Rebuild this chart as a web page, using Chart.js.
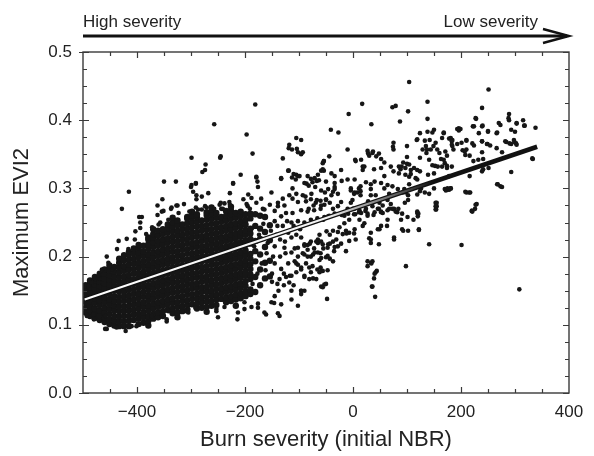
<!DOCTYPE html>
<html>
<head>
<meta charset="utf-8">
<script src="https://cdn.jsdelivr.net/npm/chart.js@4.4.1/dist/chart.umd.min.js"></script>
<style>
  html, body { margin: 0; padding: 0; background: #fff; }
  #wrap { width: 594px; height: 456px; }
</style>
</head>
<body>
<div id="wrap"><canvas id="canvas1"></canvas></div>
<script>
// axes
const xRange = [-500, 400];
const yRange = [0, 0.5];
const xTickLabels = [-400, -200, 0, 200, 400];
const xMinorTicks = [-450, -400, -350, -300, -250, -200, -150, -100, -50, 0, 50, 100, 150, 200, 250, 300, 350];
const yTickLabels = [0, 0.1, 0.2, 0.3, 0.4, 0.5];
const yMinorTicks = [0.025, 0.05, 0.075, 0.1, 0.125, 0.15, 0.175, 0.2, 0.225, 0.25, 0.275, 0.3, 0.325, 0.35, 0.375, 0.4, 0.425, 0.45, 0.475];

const severityLeft = 'High severity';
const severityRight = 'Low severity';

// regression line (end points)
const fitNbr = [-497, 341];
const fitEvi = [0.137, 0.361];

// dense cloud: NBR of each column, EVI2 values down that column
const coreNbr = [-495, -487, -478, -469, -460, -451, -442, -433, -424, -415, -406, -397, -388, -379, -370, -361, -352, -343, -334, -325,
  -316, -307, -298, -289, -280, -271, -262, -253, -244, -235, -226, -217, -208, -199, -190, -181, -172, -163, -154];
const coreEvi = [
  [.118,.125,.133,.140,.147,.153,.158],
  [.113,.120,.127,.134,.141,.148,.155,.161,.165],
  [.110,.117,.124,.132,.139,.146,.153,.159,.165,.170],
  [.107,.114,.121,.129,.136,.143,.150,.157,.163,.169,.175],
  [.104,.111,.118,.125,.133,.140,.147,.154,.161,.168,.175,.181],
  [.101,.108,.116,.123,.130,.137,.145,.152,.159,.166,.173,.180,.187],
  [.099,.106,.113,.121,.128,.135,.142,.150,.157,.164,.171,.178,.185],
  [.098,.105,.112,.120,.127,.134,.141,.149,.156,.163,.170,.177,.184,.191,.197],
  [.098,.105,.113,.120,.127,.135,.142,.149,.157,.164,.171,.179,.186,.194,.202],
  [.098,.106,.113,.121,.128,.136,.143,.151,.158,.166,.173,.181,.188,.196,.203,.207],
  [.107,.115,.122,.130,.137,.145,.152,.160,.167,.175,.182,.190,.197,.205,.212],
  [.101,.109,.116,.124,.131,.139,.146,.154,.161,.169,.176,.184,.191,.199,.206,.213,.217],
  [.103,.111,.118,.126,.133,.141,.148,.156,.163,.171,.178,.186,.193,.201,.208,.216],
  [.099,.106,.113,.121,.128,.136,.143,.151,.158,.166,.173,.181,.188,.196,.203,.211,.218,.225,.228],
  [.109,.116,.124,.131,.139,.146,.154,.161,.169,.176,.184,.191,.199,.206,.214,.221,.228,.233,.240],
  [.111,.118,.126,.133,.141,.148,.156,.163,.171,.178,.186,.193,.201,.208,.216,.223,.231,.238],
  [.113,.120,.128,.135,.143,.150,.158,.165,.173,.180,.188,.195,.203,.210,.218,.225,.233,.240],
  [.122,.130,.137,.145,.152,.160,.167,.175,.182,.190,.197,.205,.212,.220,.227,.235,.242,.247],
  [.117,.124,.132,.139,.147,.154,.162,.169,.177,.184,.192,.199,.207,.214,.222,.229,.237,.244,.250,.257],
  [.111,.118,.126,.133,.141,.148,.156,.163,.171,.178,.186,.193,.201,.208,.216,.223,.231,.238,.246,.253],
  [.120,.127,.135,.142,.150,.157,.165,.172,.180,.187,.195,.202,.210,.217,.225,.232,.240,.247],
  [.121,.129,.136,.144,.151,.159,.166,.174,.181,.189,.196,.204,.211,.219,.226,.234,.241,.249,.256,.258],
  [.130,.138,.145,.153,.160,.168,.175,.183,.190,.198,.205,.213,.220,.228,.235,.243,.250,.257,.260,.266],
  [.124,.131,.139,.146,.154,.161,.169,.176,.184,.191,.199,.206,.214,.221,.229,.236,.244,.251,.258,.262],
  [.125,.133,.140,.148,.155,.163,.170,.178,.185,.193,.200,.208,.215,.223,.230,.238,.245,.253],
  [.119,.126,.134,.141,.149,.156,.164,.171,.179,.186,.194,.201,.209,.216,.224,.231,.239,.246,.254,.261,.265],
  [.128,.135,.143,.150,.158,.165,.173,.180,.188,.195,.203,.210,.218,.225,.233,.240,.248,.255,.262,.266,.272],
  [.129,.137,.144,.152,.159,.167,.174,.182,.189,.197,.204,.212,.219,.227,.234,.242,.249,.257,.264],
  [.138,.146,.153,.161,.168,.176,.183,.191,.198,.206,.213,.221,.228,.236,.243,.251,.258],
  [.133,.140,.148,.155,.163,.170,.178,.185,.193,.200,.208,.215,.223,.230,.238,.245,.253,.260,.267],
  [.135,.142,.150,.157,.165,.172,.180,.187,.195,.202,.210,.217,.225,.232,.240,.247,.255,.262,.267,.273],
  [.128,.137,.144,.152,.159,.167,.174,.182,.189,.197,.204,.212,.219,.227,.234,.242,.249,.257,.264],
  [.139,.146,.154,.161,.169,.176,.184,.191,.199,.206,.214,.221,.229,.236,.244,.251,.259,.266],
  [.142,.149,.157,.164,.172,.179,.187,.194,.202,.209,.217,.224,.232,.239,.247,.254,.262],
  [.145,.152,.167,.174,.182,.189,.197,.204,.219,.226,.234,.241,.256,.263],
  [.148,.170,.193,.208,.223,.245,.262],
  [.158,.181,.203,.226,.241,.260],
  [.168,.191,.214,.236,.258],
  [.171,.194,.224,.246]
];

// points outside the dense cloud [NBR, EVI2]
const scatterPts = [
  [-428,.27],[-415,.295],[-396,.258],[-362,.261],[-353,.284],[-350,.31],[-351,.267],[-328,.31],[-327,.275],[-336,.272],
  [-299,.345],[-300,.302],[-291,.307],[-290,.284],[-279,.324],[-273,.335],[-274,.327],[-280,.288],[-268,.293],[-257,.394],
  [-246,.345],[-245,.279],[-228,.293],[-222,.307],[-208,.32],[-229,.28],[-197,.379],[-186,.351],[-181,.423],[-179,.316],
  [-176,.302],[-194,.291],[-151,.294],[-130,.344],[-133,.315],[-120,.326],[-119,.359],[-118,.364],[-113,.357],[-105,.374],
  [-96,.371],[-93,.353],[-105,.32],[-102,.318],[-112,.30],[-86,.307],[-71,.315],[-65,.32],
  [-299,.305],[-362,.275],[-354,.266],[-337,.27],[-325,.275],[-313,.277],[-303,.266],[-291,.272],[-394,.25],[-391,.258],
  [-357,.25],[-372,.243],[-403,.237],[-383,.233],[-419,.226],[-434,.223],[-437,.211],[-456,.20],[-453,.191],[-465,.181],
  [-471,.172],[-477,.167],[-484,.162],[-489,.157],[-486,.147],[-493,.115],[-481,.115],[-459,.113],[-456,.094],[-441,.098],
  [-428,.106],[-416,.099],[-410,.098],[-401,.098],[-421,.091],[-345,.108],[-342,.12],[-305,.123],[-292,.125],
  [-493,.113],[-480,.108],[-459,.094],[-438,.096],[-373,.113],[-345,.105],[-305,.118],[-253,.123],[-214,.108],[-201,.123],
  [-176,.125],[-161,.115],[-136,.113],[-146,.132],[-114,.15],[-96,.15],[-81,.167],[-96,.181],[-105,.19],[-81,.184],
  [-71,.206],[-65,.22],[-84,.217],[-108,.212],[-471,.162],[-446,.181],[-434,.19],[-416,.211],[-404,.225],[-394,.242],
  [-360,.247],[-342,.254],[-323,.264],[-287,.269],[-274,.274],[-244,.27],[-226,.272],[-195,.274],[-164,.269],[-139,.274],
  [-245,.347],[-102,.353],[-96,.35],[-104,.358],[-179,.317],[-177,.31],[-222,.308],[-133,.314],[-119,.326],[-110,.321],
  [-106,.313],[-113,.316],[-99,.318],[-84,.318],[-78,.314],[-90,.308],[-75,.309],[-63,.312],[-54,.34],[-56,.328],
  [-50,.31],[-291,.308],[-296,.295],[-290,.29],[-280,.269],[-271,.272],[-262,.262],[-257,.27],[-247,.276],[-238,.278],
  [-241,.27],[-228,.276],[-225,.27],[-203,.284],[-197,.277],[-188,.286],[-191,.27],[-179,.279],[-170,.285],[-167,.27],
  [-154,.276],[-145,.267],[-139,.279],[-130,.285],[-127,.275],[-118,.29],[-112,.285],[-102,.28],[-105,.292],[-93,.29],
  [-87,.281],[-78,.284],[-69,.279],[-60,.282],[-50,.284],[-53,.276],[-60,.27],[-72,.268],[-84,.266],[-96,.268],
  [-112,.264],[-124,.264],[-133,.259],[-114,.25],[-102,.252],[-90,.25],[-78,.254],[-66,.256],[-53,.258],[-44,.26],
  [-65,.225],[-56,.218],[-47,.213],[-78,.222],[-90,.218],[-102,.213],[-114,.228],[-96,.228],[-84,.21],[-72,.212],
  [-60,.205],[-50,.199],[-62,.195],[-78,.20],[-90,.203],[-102,.20],[-114,.206],[-127,.213],[-108,.193],[-117,.172],
  [-102,.188],[-87,.19],[-75,.186],[-66,.181],[-78,.177],[-90,.172],[-105,.177],[-114,.172],[-124,.17],[-136,.167],
  [-133,.182],[-145,.142],[-151,.133],[-133,.13],[-164,.118],[-139,.117],[-176,.131],[-188,.126],[-201,.133],[-213,.118],
  [-238,.126],[-253,.12],[-250,.111],[-114,.137],[-96,.145],[-102,.128],[-62,.177],[-53,.159],
  [-140,.16],[-128,.175],[-120,.19],[-145,.19],[-135,.2],[-125,.205],[-145,.215],[-135,.225],[-120,.235],[-140,.245],
  [-150,.175],[-148,.2],[-130,.245],[-110,.245],[-105,.232],[-98,.24],[-142,.232],[-126,.222],[-152,.238],[-145,.252],
  [-122,.252],[-138,.15],[-128,.158],[-118,.162],[-110,.158],[-150,.163],
  [-186,.16],[-177,.175],[-169,.19],[-160,.205],[-183,.215],[-174,.232],[-166,.248],[-158,.22],[-187,.242],[-162,.18],
  [104,.456],[251,.445],[17,.424],[-8,.409],[73,.419],[79,.421],[102,.413],[138,.427],[138,.402],[87,.398],
  [34,.394],[-41,.386],[-27,.382],[239,.418],[228,.402],[289,.409],[289,.40],[303,.395],[315,.40],[318,.392],
  [338,.389],[332,.344],[293,.324],[273,.303],[267,.306],[229,.277],[220,.267],[193,.387],[196,.388],[222,.391],
  [240,.392],[250,.383],[266,.381],[273,.393],[298,.371],[293,.365],[302,.366],[284,.368],[239,.369],[249,.365],
  [224,.363],[210,.371],[210,.357],[207,.354],[193,.365],[184,.362],[184,.371],[186,.357],[178,.373],[168,.381],
  [165,.374],[150,.386],[153,.367],[149,.362],[156,.357],[142,.371],[135,.362],[137,.357],[124,.381],[118,.371],
  [100,.362],[75,.367],[75,.357],[93,.338],[100,.336],[85,.332],[88,.328],[107,.327],[113,.33],[124,.345],
  [141,.342],[147,.334],[152,.333],[157,.332],[170,.337],[174,.333],[163,.343],[150,.322],[139,.32],[175,.298],
  [181,.30],[170,.299],[210,.294],[215,.294],[119,.291],[133,.294],[141,.292],[155,.279],[155,.274],[154,.269],
  [126,.30],[116,.315],[97,.32],[85,.322],[104,.306],[102,.29],[92,.294],[96,.279],[119,.264],[120,.259],
  [70,.332],[75,.325],[58,.318],[52,.33],[39,.328],[33,.306],[52,.308],[58,.30],[67,.292],[64,.283],
  [55,.275],[46,.27],[40,.265],[28,.281],[36,.352],[30,.348],[27,.355],[52,.343],[43,.347],[18,.332],
  [15,.342],[5,.34],[-10,.357],[-22,.327],[-34,.318],[-40,.322],[-44,.347],[-56,.337],[-54,.326],[-59,.326],
  [-67,.311],[-70,.302],[-82,.304],[-77,.292],[-88,.288],[-96,.351],[-34,.302],[-37,.295],[-28,.292],[-40,.29],
  [-4,.30],[2,.292],[8,.294],[14,.29],[11,.30],[-1,.283],[-4,.279],[-22,.28],[-10,.27],[2,.27],
  [11,.265],[23,.267],[27,.26],[-16,.26],[2,.262],[52,.265],[73,.27],[82,.265],[70,.277],[33,.29],
  [42,.29],[-59,.297],[-50,.283],[-59,.275],[-67,.283],[-73,.275],[-82,.27],[-37,.27],[-43,.279],[-28,.274],
  [138,.383],[147,.382],[119,.372],[133,.37],[74,.361],[28,.351],[37,.354],[48,.351],[4,.342],[-54,.34],
  [21,.332],[18,.327],[58,.338],[90,.332],[100,.346],[104,.335],[97,.33],[129,.357],[136,.352],[144,.357],
  [160,.352],[168,.342],[119,.327],[124,.325],[107,.321],[104,.317],[119,.313],[95,.299],[98,.294],[124,.296],
  [83,.299],[73,.303],[64,.305],[40,.31],[24,.309],[14,.303],[3,.313],[-10,.313],[-21,.311],[-34,.308],
  [-34,.299],[-46,.299],[-52,.294],[-4,.297],[3,.294],[14,.296],[33,.299],[49,.279],[36,.274],[24,.27],
  [12,.268],[0,.27],[-9,.263],[-21,.261],[-34,.263],[-46,.259],[-55,.254],[27,.263],[38,.261],[52,.266],
  [64,.268],[76,.27],[91,.263],[101,.258],[112,.254],[122,.24],[91,.24],[76,.228],[49,.24],[33,.225],
  [3,.24],[-12,.234],[-28,.236],[-43,.232],[-59,.222],[-46,.218],[-34,.214],[-47,.201],[-37,.193],[-59,.198],
  [-56,.179],[-50,.16],[33,.191],[27,.186],[42,.177],[39,.168],[36,.156],[41,.141],[98,.186],[141,.218],
  [153,.279],[153,.274],[150,.30],[178,.318],[175,.30],
  [-90,.15],[-96,.15],[-48,.138],[-59,.156],[-56,.155],[-58,.179],[-47,.18],[-60,.184],[-74,.168],[-68,.167],
  [-90,.17],[-96,.184],[-43,.197],[-35,.208],[-28,.215],[-22,.219],[-13,.208],[-7,.223],[5,.225],[2,.234],
  [18,.245],[30,.227],[33,.22],[48,.218],[27,.193],[36,.193],[34,.19],[44,.179],[40,.175],[35,.156],
  [76,.225],[93,.238],[102,.238],[122,.239],[201,.217],[221,.266],[226,.27],[153,.269],[119,.266],[121,.263],
  [89,.254],[102,.283],[63,.245],[64,.254],[52,.245],[46,.24],[33,.235],[21,.249],[12,.254],[15,.264],
  [4,.262],[-7,.254],[-16,.249],[-25,.243],[-37,.238],[-49,.237],[-62,.232],[-68,.222],[-80,.219],[-90,.216],
  [-7,.235],[-13,.238],[-19,.233],[-31,.225],[-37,.222],[-43,.219],[-55,.212],[-65,.206],[-74,.203],[-84,.20],
  [-93,.205],[308,.152],[48,.27],[55,.264],[67,.27],[79,.266],[84,.27],
  [288,.403],[303,.396],[317,.392],[293,.386],[300,.383],[270,.396],[267,.382],[250,.384],[239,.391],[227,.403],
  [224,.391],[233,.381],[199,.387],[196,.385],[168,.382],[181,.374],[183,.369],[183,.364],[210,.37],[201,.367],
  [221,.366],[239,.369],[248,.365],[254,.363],[266,.359],[282,.369],[290,.366],[299,.368],[303,.364],[276,.353],
  [239,.353],[171,.354],[174,.348],[203,.356],[208,.349],[216,.348],[223,.34],[232,.342],[241,.343],[251,.33],
  [241,.328],[239,.325],[216,.318],[333,.343],[165,.332],[174,.33],[183,.332],[178,.298],[172,.297],[181,.30],
  [208,.295],[217,.294],[268,.306],[276,.302],[227,.276],[220,.267]
];

const FONT = "'Liberation Sans', Arial, Helvetica, sans-serif";
const INK = '#161616';

function makeCloud() {
    const pts = [];
    coreNbr.forEach(function (x, i) {
        coreEvi[i].forEach(function (y) { pts.push({ x: x, y: y }); });
    });
    return pts;
}

function isMajor(list, v) {
    return list.some(t => Math.abs(t - v) < 1e-9);
}

// frame, inward ticks and the severity arrow
const frameTicks = {
    id: 'frameTicks',
    afterDraw(chart) {
        const { ctx, chartArea: a, scales: { x, y } } = chart;
        ctx.save();
        ctx.strokeStyle = '#3a3a3a';
        ctx.lineWidth = 1.4;
        ctx.strokeRect(a.left, a.top, a.right - a.left, a.bottom - a.top);

        ctx.lineWidth = 1.2;
        ctx.beginPath();
        xMinorTicks.forEach(v => {
            const px = Math.round(x.getPixelForValue(v)) + 0.5;
            const len = isMajor(xTickLabels, v) ? 6 : 4;
            ctx.moveTo(px, a.bottom); ctx.lineTo(px, a.bottom - len);
            ctx.moveTo(px, a.top); ctx.lineTo(px, a.top + len);
        });
        yMinorTicks.concat(yTickLabels).forEach(v => {
            const py = Math.round(y.getPixelForValue(v)) + 0.5;
            const major = isMajor(yTickLabels, v);
            const len = major ? 6 : 4;
            ctx.moveTo(a.left - (major ? 4 : 0), py); ctx.lineTo(a.left + len, py);
            ctx.moveTo(a.right, py); ctx.lineTo(a.right - len, py);
        });
        ctx.stroke();

        // arrow above the plot
        const ay = 36;
        ctx.strokeStyle = '#111';
        ctx.lineWidth = 3;
        ctx.beginPath();
        ctx.moveTo(a.left, ay); ctx.lineTo(a.right - 2, ay);
        ctx.stroke();
        ctx.lineWidth = 2.4;
        ctx.beginPath();
        ctx.moveTo(a.right - 26, ay - 7); ctx.lineTo(a.right, ay); ctx.lineTo(a.right - 26, ay + 7);
        ctx.stroke();

        ctx.fillStyle = '#222';
        ctx.font = '17px ' + FONT;
        ctx.textBaseline = 'alphabetic';
        ctx.textAlign = 'left';
        ctx.fillText(severityLeft, a.left, 27);
        ctx.textAlign = 'right';
        ctx.fillText(severityRight, a.right - 31, 27);
        ctx.restore();
    }
};

function DrawChart() {
    const fit = fitNbr.map((x, i) => ({ x: x, y: fitEvi[i] }));
    const data = {
        datasets: [
            {
                label: 'fit highlight',
                data: fit,
                showLine: true,
                pointRadius: 0,
                borderWidth: 2,
                borderCapStyle: 'butt',
                borderColor: function (ctx) {
                    const a = ctx.chart.chartArea;
                    if (!a) return 'rgba(255,255,255,0.9)';
                    const g = ctx.chart.ctx.createLinearGradient(a.left, 0, a.right, 0);
                    g.addColorStop(0, 'rgba(255,255,255,1)');
                    g.addColorStop(0.5, 'rgba(255,255,255,0.95)');
                    g.addColorStop(0.72, 'rgba(255,255,255,0)');
                    return g;
                },
                order: 0
            },
            {
                label: 'fit',
                data: fit,
                showLine: true,
                pointRadius: 0,
                borderWidth: 4.6,
                borderCapStyle: 'butt',
                borderColor: '#111',
                order: 1
            },
            {
                label: 'sparse',
                data: scatterPts.map(p => ({ x: p[0], y: p[1] })),
                pointRadius: 2.3,
                borderWidth: 0,
                backgroundColor: INK,
                order: 2
            },
            {
                label: 'cloud',
                data: makeCloud(),
                pointRadius: 3.2,
                borderWidth: 0,
                backgroundColor: INK,
                order: 3
            }
        ]
    };
    const config = {
        type: 'scatter',
        data: data,
        options: {
            responsive: true,
            maintainAspectRatio: false,
            animation: false,
            events: [],
            layout: { padding: { top: 52, right: 25, left: 0, bottom: 0 } },
            plugins: { legend: { display: false }, tooltip: { enabled: false } },
            scales: {
                x: {
                    type: 'linear',
                    min: xRange[0],
                    max: xRange[1],
                    afterBuildTicks: s => { s.ticks = xTickLabels.map(v => ({ value: v })); },
                    afterFit: s => { s.height = 63; },
                    grid: { display: false, drawTicks: false },
                    border: { display: false },
                    ticks: {
                        padding: 9,
                        color: '#222',
                        maxRotation: 0,
                        autoSkip: false,
                        font: { family: FONT, size: 17 },
                        callback: v => (v < 0 ? '\u2212' + Math.abs(v) : String(v))
                    },
                    title: {
                        display: true,
                        text: 'Burn severity (initial NBR)',
                        color: '#222',
                        font: { family: FONT, size: 22 },
                        padding: { top: 0, bottom: 3 }
                    }
                },
                y: {
                    type: 'linear',
                    min: yRange[0],
                    max: yRange[1],
                    afterBuildTicks: s => { s.ticks = yTickLabels.map(v => ({ value: v })); },
                    afterFit: s => { s.width = 83; },
                    grid: { display: false, drawTicks: false },
                    border: { display: false },
                    ticks: {
                        padding: 11,
                        color: '#222',
                        font: { family: FONT, size: 17 },
                        callback: v => Number(v).toFixed(1)
                    },
                    title: {
                        display: true,
                        text: 'Maximum EVI2',
                        color: '#222',
                        font: { family: FONT, size: 22 },
                        padding: { top: 9, bottom: 0 }
                    }
                }
            }
        },
        plugins: [frameTicks]
    };
    const canvas = document.getElementById('canvas1');
    return new Chart(canvas, config);
}

DrawChart();
</script>
</body>
</html>
